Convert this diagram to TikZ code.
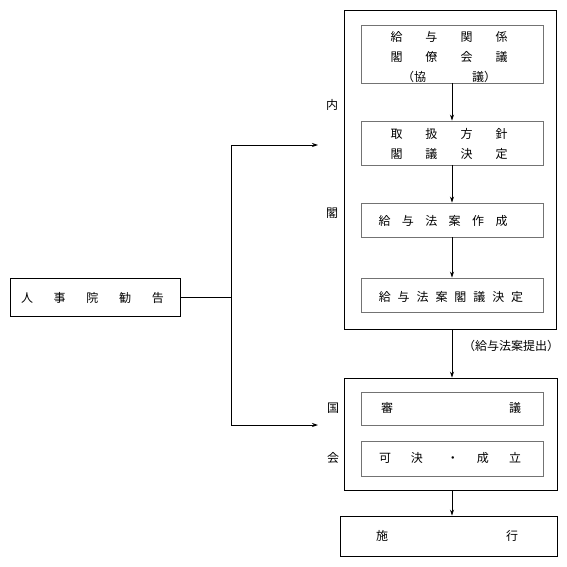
\documentclass[tikz,border=0pt]{standalone}
\usepackage{fontspec}
\newfontfamily\jp{Noto Sans CJK JP}
\usetikzlibrary{arrows.meta}
\begin{document}
\begin{tikzpicture}[x=1pt,y=-1pt,
  every node/.style={font=\jp\fontsize{12}{20}\selectfont},
  outerbox/.style={draw=black,line width=0.9pt,rectangle,inner sep=0pt},
  innerbox/.style={draw=black!55,line width=0.9pt,rectangle,inner sep=0pt,minimum width=182pt},
  txt/.style={inner sep=0pt,align=center},
  conn/.style={line width=0.8pt,draw=black},
  arr/.style={conn,-{Stealth[length=6pt,width=4pt]}}]
\useasboundingbox[fill=white] (0,0) rectangle (566,567);
% outer boxes
\node[outerbox,minimum width=212pt,minimum height=319pt] (cab) at (450,169.5) {};
\node[outerbox,minimum width=213pt,minimum height=112pt] (diet) at (450.5,434) {};
\node[outerbox,minimum width=217pt,minimum height=40pt] (exe) at (448.5,536) {};
\node[outerbox,minimum width=170pt,minimum height=38pt] (rec) at (95,297) {};
% inner boxes
\node[innerbox,minimum height=58pt] (b1) at (452,54) {};
\node[innerbox,minimum height=44pt] (b2) at (452,143) {};
\node[innerbox,minimum height=34pt] (b3) at (452,220) {};
\node[innerbox,minimum height=34pt] (b4) at (452,295) {};
\node[innerbox,minimum height=33pt] (d1) at (452,408.5) {};
\node[innerbox,minimum height=35pt] (d2) at (452,458.5) {};
% texts
\node[txt] (b1t) at (449,57) {給\hspace{23pt}与\hspace{23pt}関\hspace{23pt}係\\閣\hspace{23pt}僚\hspace{23pt}会\hspace{23pt}議\\（協\hspace{46pt}議）};
\node[txt] (b2t) at (449,144) {取\hspace{23pt}扱\hspace{23pt}方\hspace{23pt}針\\閣\hspace{23pt}議\hspace{23pt}決\hspace{23pt}定};
\node[txt] (b3t) at (443,221) {給\hspace{11.4pt}与\hspace{11.4pt}法\hspace{11.4pt}案\hspace{11.4pt}作\hspace{11.4pt}成};
\node[txt] (b4t) at (451,296.5) {給\hspace{6.9pt}与\hspace{6.9pt}法\hspace{6.9pt}案\hspace{6.9pt}閣\hspace{6.9pt}議\hspace{6.9pt}決\hspace{6.9pt}定};
\node[txt] (d1t) at (451,408) {審\hspace{116pt}議};
\node[txt] (d2t) at (450,458) {可\hspace{20pt}決\hspace{24pt}・\hspace{18pt}成\hspace{20pt}立};
\node[txt] (exet) at (447,536) {施\hspace{118pt}行};
\node[txt] (rect) at (92.5,298) {人\hspace{20.75pt}事\hspace{20.75pt}院\hspace{20.75pt}勧\hspace{20.75pt}告};
\node[txt] (lbl) at (511,346) {（給与法案提出）};
\node[txt] (n1) at (332,105) {内};
\node[txt] (n2) at (332,213) {閣};
\node[txt] (n3) at (333,408) {国};
\node[txt] (n4) at (333,458) {会};
% connectors
\draw[arr] (b1.south) -- (b2.north);
\draw[arr] (b2.south) -- (b3.north);
\draw[arr] (b3.south) -- (b4.north);
\draw[arr] (b4.south |- cab.south) -- (b4.south |- diet.north);
\draw[arr] (b4.south |- diet.south) -- (b4.south |- exe.north);
\coordinate (jn) at (231,297);
\coordinate (jt) at (231,145);
\coordinate (jb) at (231,425);
\coordinate (at) at (318,145);
\coordinate (ab) at (318,425);
\draw[conn] (rec.east) -- (jn);
\draw[conn] (jt) -- (jb);
\draw[arr] (jt) -- (at);
\draw[arr] (jb) -- (ab);
\end{tikzpicture}
\end{document}
